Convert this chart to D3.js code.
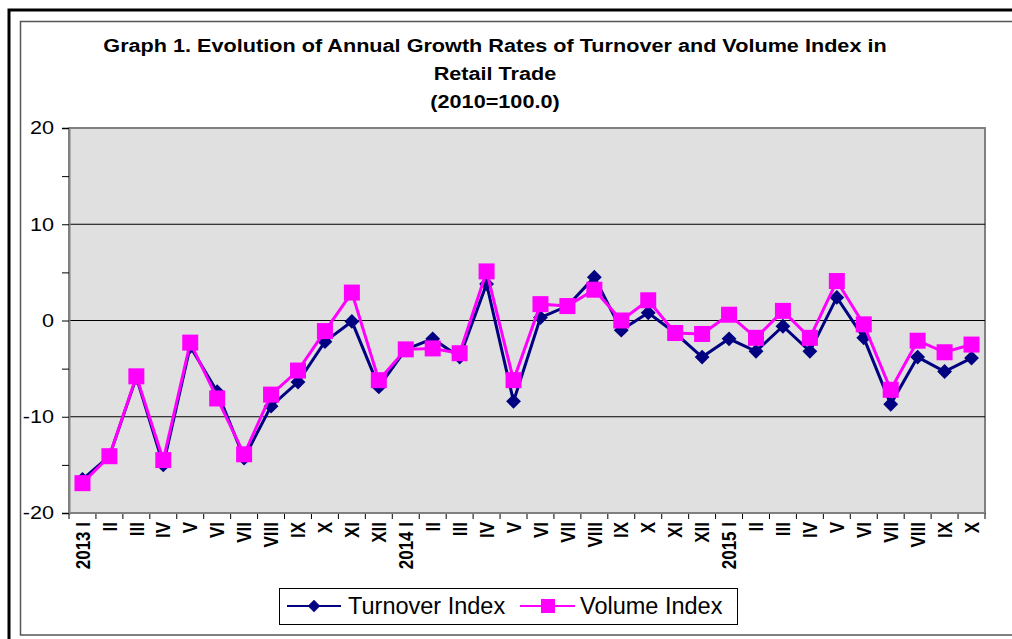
<!DOCTYPE html>
<html>
<head>
<meta charset="utf-8">
<script src="https://cdn.jsdelivr.net/npm/d3@7"></script>
<style>
  body { margin: 0; background: #fff; }
  svg text { font-family: Arial, "Liberation Sans", sans-serif; }
</style>
</head>
<body>
<svg id="chart" width="1012" height="639"></svg>
<script>
const categories = [
  "2013 I", "II", "III", "IV", "V", "VI", "VII", "VIII", "IX", "X", "XI", "XII",
  "2014 I", "II", "III", "IV", "V", "VI", "VII", "VIII", "IX", "X", "XI", "XII",
  "2015 I", "II", "III", "IV", "V", "VI", "VII", "VIII", "IX", "X"
];
const turnover = [-16.5, -14.1, -5.9, -15.0, -2.7, -7.4, -14.3, -8.9, -6.4, -2.2, -0.1, -6.9,
  -3.0, -1.9, -3.8, 3.8, -8.4, 0.3, 1.5, 4.5, -1.0, 0.8, -1.3, -3.8,
  -1.9, -3.2, -0.6, -3.2, 2.4, -1.8, -8.7, -3.8, -5.3, -3.9];
const volume = [-16.9, -14.1, -5.8, -14.5, -2.3, -8.1, -13.9, -7.7, -5.2, -1.1, 2.9, -6.2,
  -3.0, -2.9, -3.4, 5.1, -6.2, 1.7, 1.5, 3.2, 0.0, 2.1, -1.3, -1.4,
  0.6, -1.8, 1.0, -1.8, 4.1, -0.4, -7.2, -2.1, -3.3, -2.5];
const yTicks = [-20, -10, 0, 10, 20];
const titleLines = [
  "Graph 1. Evolution of Annual Growth Rates of Turnover and Volume Index in",
  "Retail Trade",
  "(2010=100.0)"
];

const svg = d3.select("#chart");
const plot = { left: 69, right: 985, top: 128, bottom: 513 };
const sx = 1.17; // the source picture is a bit wider than tall

// outer frame
svg.append("path")
  .attr("d", "M9,639 V10 H1012")
  .attr("fill", "none").attr("stroke", "#000").attr("stroke-width", 3);
svg.append("rect")
  .attr("x", 20.5).attr("y", 21.5).attr("width", 1000).attr("height", 613.5)
  .attr("fill", "none").attr("stroke", "#555").attr("stroke-width", 1.5);

// title
svg.selectAll(".title")
  .data(titleLines)
  .enter().append("text")
  .attr("class", "title")
  .attr("transform", (d, i) => `translate(495,${52 + i * 28}) scale(${sx},1)`)
  .attr("text-anchor", "middle")
  .attr("font-size", 18.5)
  .attr("font-weight", "bold")
  .text(d => d);

const x = d3.scaleBand()
  .domain(d3.range(categories.length))
  .range([plot.left, plot.right])
  .padding(0);

const y = d3.scaleLinear()
  .domain([-20, 20])
  .range([plot.bottom, plot.top]);

// plot area
svg.append("rect")
  .attr("x", plot.left).attr("y", plot.top)
  .attr("width", plot.right - plot.left).attr("height", plot.bottom - plot.top)
  .attr("fill", "#e0e0e0")
  .attr("stroke", "#808080").attr("stroke-width", 2);

// gridlines
svg.selectAll(".grid")
  .data([-10, 0, 10])
  .enter().append("line")
  .attr("x1", plot.left).attr("x2", plot.right)
  .attr("y1", d => y(d)).attr("y2", d => y(d))
  .attr("stroke", "#000").attr("stroke-width", 1);

// y axis
const yAxis = svg.append("g")
  .attr("transform", `translate(${plot.left},0)`)
  .call(d3.axisLeft(y).tickValues(d3.range(-20, 21, 5)).tickSize(7)
    .tickFormat(d => yTicks.includes(d) ? d : ""));
yAxis.select(".domain").attr("stroke", "#808080").attr("stroke-width", 2);
yAxis.selectAll(".tick line").attr("stroke", "#000");
yAxis.selectAll(".tick text")
  .attr("font-size", 18.5)
  .attr("x", -15 / sx)
  .attr("transform", `scale(${sx},1)`)
  .attr("fill", "#000");

// x axis ticks at band boundaries
const xAxis = svg.append("g");
xAxis.selectAll("line")
  .data(d3.range(categories.length + 1))
  .enter().append("line")
  .attr("x1", d => plot.left + d * x.step())
  .attr("x2", d => plot.left + d * x.step())
  .attr("y1", plot.bottom).attr("y2", plot.bottom + 6)
  .attr("stroke", "#000");
xAxis.append("line")
  .attr("x1", plot.left).attr("x2", plot.right)
  .attr("y1", plot.bottom).attr("y2", plot.bottom)
  .attr("stroke", "#808080").attr("stroke-width", 2);
xAxis.selectAll("text")
  .data(categories)
  .enter().append("text")
  .attr("transform", (d, i) => `translate(${x(i) + x.bandwidth() / 2},${plot.bottom + 9}) rotate(-90) scale(1,${sx})`)
  .attr("text-anchor", "end")
  .attr("dy", "0.36em")
  .attr("font-size", 17)
  .attr("font-weight", "bold")
  .text(d => d);

// series
const line = d3.line()
  .x((d, i) => x(i) + x.bandwidth() / 2)
  .y(d => y(d));

svg.append("path")
  .datum(turnover)
  .attr("d", line)
  .attr("fill", "none").attr("stroke", "#000080").attr("stroke-width", 3);
svg.selectAll(".diamond")
  .data(turnover)
  .enter().append("path")
  .attr("class", "diamond")
  .attr("d", d3.symbol().type(d3.symbolDiamond2).size(140))
  .attr("transform", (d, i) => `translate(${x(i) + x.bandwidth() / 2},${y(d)})`)
  .attr("fill", "#000080");

svg.append("path")
  .datum(volume)
  .attr("d", line)
  .attr("fill", "none").attr("stroke", "#ff00ff").attr("stroke-width", 3);
svg.selectAll(".square")
  .data(volume)
  .enter().append("rect")
  .attr("class", "square")
  .attr("x", (d, i) => x(i) + x.bandwidth() / 2 - 8)
  .attr("y", d => y(d) - 8)
  .attr("width", 16).attr("height", 16)
  .attr("fill", "#ff00ff");

// legend
const legend = svg.append("g");
legend.append("rect")
  .attr("x", 279.5).attr("y", 588.5).attr("width", 458).attr("height", 36)
  .attr("fill", "#fff").attr("stroke", "#000");
legend.append("line")
  .attr("x1", 287).attr("x2", 341).attr("y1", 606).attr("y2", 606)
  .attr("stroke", "#000080").attr("stroke-width", 2);
legend.append("path")
  .attr("d", d3.symbol().type(d3.symbolDiamond2).size(100))
  .attr("transform", "translate(314,606)")
  .attr("fill", "#000080");
legend.append("text")
  .attr("x", 348).attr("y", 614)
  .attr("font-size", 23.5)
  .text("Turnover Index");
legend.append("line")
  .attr("x1", 520).attr("x2", 575).attr("y1", 606).attr("y2", 606)
  .attr("stroke", "#ff00ff").attr("stroke-width", 2);
legend.append("rect")
  .attr("x", 541).attr("y", 599).attr("width", 14).attr("height", 14)
  .attr("fill", "#ff00ff");
legend.append("text")
  .attr("x", 580).attr("y", 614)
  .attr("font-size", 23.5)
  .text("Volume Index");
</script>
</body>
</html>
